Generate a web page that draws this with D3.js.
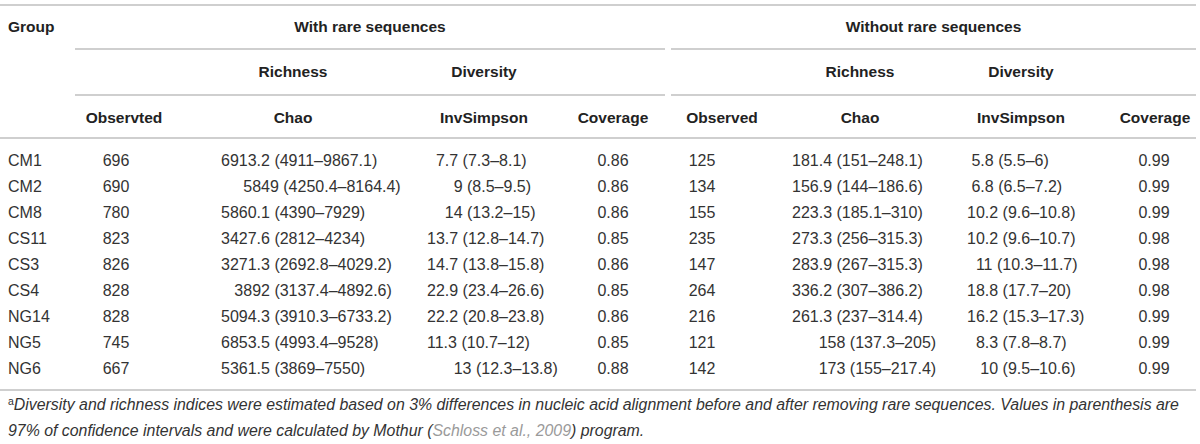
<!DOCTYPE html>
<html>
<head>
<meta charset="utf-8">
<script src="https://cdn.jsdelivr.net/npm/d3@7"></script>
<style>
    body { margin: 0; background: #fff; }
    svg text { font-family: "Liberation Sans", Arial, Helvetica, sans-serif; white-space: pre; }
</style>
</head>
<body>
<svg id="table"></svg>
<script>
// Table values
const groups = ["CM1", "CM2", "CM8", "CS11", "CS3", "CS4", "NG14", "NG5", "NG6"];
const withObserved = [696, 690, 780, 823, 826, 828, 828, 745, 667];
const withChao = ["6913.2 (4911–9867.1)", "     5849 (4250.4–8164.4)", "5860.1 (4390–7929)", "3427.6 (2812–4234)",
    "3271.3 (2692.8–4029.2)", "   3892 (3137.4–4892.6)", "5094.3 (3910.3–6733.2)", "6853.5 (4993.4–9528)", "5361.5 (3869–7550)"];
const withInvSimpson = ["  7.7 (7.3–8.1)", "      9 (8.5–9.5)", "    14 (13.2–15)", "13.7 (12.8–14.7)", "14.7 (13.8–15.8)",
    "22.9 (23.4–26.6)", "22.2 (20.8–23.8)", "11.3 (10.7–12)", "      13 (12.3–13.8)"];
const withCoverage = ["0.86", "0.86", "0.86", "0.85", "0.86", "0.85", "0.86", "0.85", "0.88"];
const withoutObserved = [125, 134, 155, 235, 147, 264, 216, 121, 142];
const withoutChao = ["181.4 (151–248.1)", "156.9 (144–186.6)", "223.3 (185.1–310)", "273.3 (256–315.3)", "283.9 (267–315.3)",
    "336.2 (307–386.2)", "261.3 (237–314.4)", "      158 (137.3–205)", "      173 (155–217.4)"];
const withoutInvSimpson = [" 5.8 (5.5–6)", " 6.8 (6.5–7.2)", "10.2 (9.6–10.8)", "10.2 (9.6–10.7)", "  11 (10.3–11.7)",
    "18.8 (17.7–20)", "16.2 (15.3–17.3)", "  8.3 (7.8–8.7)", "   10 (9.5–10.6)"];
const withoutCoverage = ["0.99", "0.99", "0.99", "0.98", "0.98", "0.98", "0.99", "0.99", "0.99"];

const sections = ["With rare sequences", "Without rare sequences"];
const indexGroups = ["Richness", "Diversity"];
const columnHeaders = ["Observted", "Chao", "InvSimpson", "Coverage", "Observed", "Chao", "InvSimpson", "Coverage"];

// Layout
const width = 1200, height = 444;
const textColor = "#333";
const ruleColor = "#cfcfcf";
const dataSize = 16, headSize = 15.5;

const svg = d3.select("#table")
    .attr("width", width)
    .attr("height", height);

// Rows are bands, one per group
const y = d3.scaleBand()
    .domain(groups)
    .range([147, 381]);

// Where each column sits: data x / anchor, header centre
const columns = [
    { values: withObserved, x: 116, anchor: "middle", hx: 124 },
    { values: withChao, x: 221, anchor: "start", hx: 293 },
    { values: withInvSimpson, x: 427, anchor: "start", hx: 484 },
    { values: withCoverage, x: 613, anchor: "middle", hx: 613 },
    { values: withoutObserved, x: 702, anchor: "middle", hx: 722 },
    { values: withoutChao, x: 792, anchor: "start", hx: 860 },
    { values: withoutInvSimpson, x: 967, anchor: "start", hx: 1021 },
    { values: withoutCoverage, x: 1154, anchor: "middle", hx: 1155 }
];

// Two halves of the table, for the spanning rules and titles
const spans = [[75, 665], [671, 1196]];

// Horizontal rules
const fullRules = [5, 138, 390];
svg.selectAll("line.full")
    .data(fullRules)
    .enter()
    .append("line")
    .attr("class", "full")
    .attr("x1", 0).attr("x2", 1196)
    .attr("y1", d => d).attr("y2", d => d)
    .attr("stroke", ruleColor)
    .attr("stroke-width", 2);

const spanRules = [49, 95];
spanRules.forEach(ry => {
    svg.selectAll(null)
        .data(spans)
        .enter()
        .append("line")
        .attr("x1", d => d[0]).attr("x2", d => d[1])
        .attr("y1", ry).attr("y2", ry)
        .attr("stroke", ruleColor)
        .attr("stroke-width", 2);
});

function headText(x, yy, txt, anchor) {
    svg.append("text")
        .attr("x", x)
        .attr("y", yy)
        .attr("dy", "0.35em")
        .attr("text-anchor", anchor || "middle")
        .attr("font-size", headSize)
        .attr("font-weight", "bold")
        .attr("fill", "#222")
        .text(txt);
}

// Header: group label, section titles
headText(8, 27, "Group", "start");
sections.forEach((s, i) => headText((spans[i][0] + spans[i][1]) / 2, 27, s));

// Richness / Diversity over the Chao and InvSimpson columns
[0, 4].forEach(offset => {
    indexGroups.forEach((g, i) => headText(columns[offset + 1 + i].hx, 72, g));
});

// Column headers
columnHeaders.forEach((h, i) => headText(columns[i].hx, 118, h));

// Body: group names
svg.selectAll("text.group")
    .data(groups)
    .enter()
    .append("text")
    .attr("class", "group")
    .attr("x", 8)
    .attr("y", d => y(d) + y.bandwidth() / 2)
    .attr("dy", "0.35em")
    .attr("font-size", dataSize)
    .attr("fill", textColor)
    .text(d => d);

// Body: one column at a time
columns.forEach(col => {
    svg.selectAll(null)
        .data(col.values)
        .enter()
        .append("text")
        .attr("x", col.x)
        .attr("y", (d, i) => y(groups[i]) + y.bandwidth() / 2)
        .attr("dy", "0.35em")
        .attr("text-anchor", col.anchor)
        .attr("font-size", dataSize)
        .attr("fill", textColor)
        .text(d => d);
});

// Footnote
const note1 = svg.append("text")
    .attr("x", 8)
    .attr("y", 408)
    .attr("dy", "0.35em")
    .attr("font-size", 15)
    .attr("fill", textColor);
note1.append("tspan")
    .attr("font-size", 10)
    .attr("dy", "-0.3em")
    .text("a");
note1.append("tspan")
    .attr("font-style", "italic")
    .attr("dy", "0.3em")
    .text("Diversity and richness indices were estimated based on 3% differences in nucleic acid alignment before and after removing rare sequences. Values in parenthesis are");

const note2 = svg.append("text")
    .attr("x", 8)
    .attr("y", 430)
    .attr("dy", "0.35em")
    .attr("font-size", 15)
    .attr("font-style", "italic")
    .attr("fill", textColor);
note2.append("tspan").text("97% of confidence intervals and were calculated by Mothur (");
note2.append("tspan").attr("fill", "#9a9a9a").text("Schloss et al., 2009");
note2.append("tspan").text(") program.");

// Fit the footnote to the width it takes in the picture
const len1 = note1.node().getComputedTextLength();
const fs = 15 * (1172 / len1);
note1.attr("font-size", fs);
note1.select("tspan").attr("font-size", fs * 0.66);
note2.attr("font-size", fs);
</script>
</body>
</html>
